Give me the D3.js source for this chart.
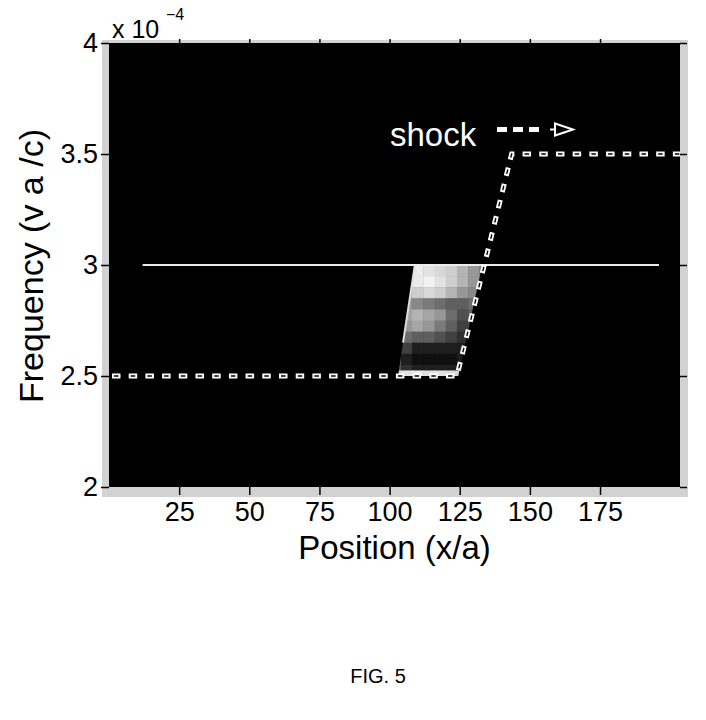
<!DOCTYPE html>
<html>
<head>
<meta charset="utf-8">
<script src="https://cdn.jsdelivr.net/npm/d3@7/dist/d3.min.js"></script>
<style>
  body { margin: 0; background: #fff; }
  svg { display: block; font-family: 'Liberation Sans', Arial, Helvetica, sans-serif; }
  .axis text { font-size: 27px; fill: #000; }
  .axis line { stroke: #000; stroke-width: 1.5; }
  .axis .domain { display: none; }
</style>
</head>
<body>
<svg id="chart" width="706" height="720"></svg>
<script>
// values are in units of 1e-4 (see the "x 10^-4" note on the axis)
const xTicks = [25, 50, 75, 100, 125, 150, 175];
const yTicks = [2, 2.5, 3, 3.5, 4];
const xDomain = [0, 203.5];
const yDomain = [2, 4];

// incident frequency line
const bandX = [12, 196];
const bandY = [3, 3];

// shock front (dashed)
const shockX = [0, 124, 143.5, 203.5];
const shockY = [2.5, 2.5, 3.5, 3.5];

// outline of the converted region behind the shock
const blobX = [103, 109, 133, 124.5];
const blobY = [2.5, 3.0, 3.0, 2.5];

// grey levels inside that region: rows from top (3.0) down, cells 4 wide from x = 100
const blobRowTop = [3.0, 2.95, 2.9, 2.85, 2.8, 2.75, 2.7, 2.65, 2.6, 2.55, 2.525];
const blobRowBottom = [2.95, 2.9, 2.85, 2.8, 2.75, 2.7, 2.65, 2.6, 2.55, 2.525, 2.5];
const blobColLeft = [100, 104, 108, 112, 116, 120, 124, 128, 132];
const blobLevels = [
  [0.70, 0.80, 0.85, 0.80, 0.75, 0.70, 0.60, 0.50, 0.40],
  [0.60, 0.75, 0.85, 0.90, 0.80, 0.70, 0.60, 0.50, 0.40],
  [0.50, 0.60, 0.70, 0.75, 0.70, 0.60, 0.50, 0.45, 0.40],
  [0.45, 0.50, 0.45, 0.40, 0.35, 0.30, 0.30, 0.35, 0.35],
  [0.50, 0.55, 0.60, 0.55, 0.50, 0.35, 0.25, 0.30, 0.30],
  [0.45, 0.50, 0.55, 0.50, 0.40, 0.30, 0.20, 0.25, 0.30],
  [0.40, 0.35, 0.30, 0.30, 0.25, 0.20, 0.15, 0.20, 0.30],
  [0.35, 0.20, 0.10, 0.10, 0.10, 0.10, 0.10, 0.15, 0.30],
  [0.30, 0.10, 0.05, 0.05, 0.05, 0.05, 0.10, 0.10, 0.30],
  [0.30, 0.15, 0.10, 0.10, 0.10, 0.10, 0.10, 0.10, 0.30],
  [0.70, 0.80, 0.85, 0.80, 0.80, 0.75, 0.70, 0.60, 0.40]
];

const PLOT = { left: 109, right: 680, top: 43, bottom: 487 };

function render () {
  let svg = d3.select('#chart');

  let x = d3.scaleLinear().domain(xDomain).range([PLOT.left, PLOT.right]);
  let y = d3.scaleLinear().domain(yDomain).range([PLOT.bottom, PLOT.top]);
  let line = d3.line().x(d => x(d[0])).y(d => y(d[1]));

  // speckled grey margin round the plot (scan look)
  svg.append('rect')
    .attr('x', PLOT.left - 7).attr('y', PLOT.top - 3)
    .attr('width', PLOT.right - PLOT.left + 15).attr('height', PLOT.bottom - PLOT.top + 13)
    .attr('fill', '#d2d2d2');

  svg.append('rect')
    .attr('x', PLOT.left).attr('y', PLOT.top)
    .attr('width', PLOT.right - PLOT.left).attr('height', PLOT.bottom - PLOT.top)
    .attr('fill', '#000');

  let plot = svg.append('g');

  plot.append('clipPath').attr('id', 'blobClip')
    .append('path')
    .attr('d', line(d3.zip(blobX, blobY)) + 'Z');

  let cells = [];
  blobLevels.forEach((row, i) => {
    row.forEach((v, j) => {
      cells.push({ x0: blobColLeft[j], top: blobRowTop[i], bottom: blobRowBottom[i], v });
    });
  });
  plot.append('g').attr('clip-path', 'url(#blobClip)')
    .selectAll('rect')
    .data(cells)
    .enter().append('rect')
    .attr('x', d => x(d.x0))
    .attr('y', d => y(d.top))
    .attr('width', x(4) - x(0) + 0.5)
    .attr('height', d => y(d.bottom) - y(d.top) + 0.5)
    .attr('fill', d => d3.interpolateGreys(1 - d.v));

  // bright left rim of the region, from the top corner part way down
  let rimEnd = d3.interpolate([blobX[1], blobY[1]], [blobX[0], blobY[0]])(0.7);
  plot.append('path')
    .attr('d', line([[blobX[1], blobY[1]], rimEnd]))
    .attr('stroke', '#ddd').attr('stroke-width', 2).attr('fill', 'none');

  plot.append('path')
    .attr('d', line(d3.zip(bandX, bandY)))
    .attr('stroke', '#ececec').attr('stroke-width', 2.2).attr('fill', 'none');

  let shockLine = line(d3.zip(shockX, shockY));
  plot.append('path')
    .attr('d', shockLine)
    .attr('fill', 'none').attr('stroke', '#fff').attr('stroke-width', 5)
    .attr('stroke-dasharray', '8.5 8.2').attr('stroke-dashoffset', 13.7);
  plot.append('path')
    .attr('d', shockLine)
    .attr('fill', 'none').attr('stroke', '#000').attr('stroke-width', 1.4)
    .attr('stroke-dasharray', '4.5 12.2').attr('stroke-dashoffset', 11.7);

  // legend
  let legend = svg.append('g');
  legend.append('text')
    .attr('x', 390).attr('y', 146)
    .attr('fill', '#fff').style('font-size', '33px')
    .text('shock');
  legend.append('line')
    .attr('x1', 497).attr('y1', 129.5).attr('x2', 545).attr('y2', 129.5)
    .attr('stroke', '#fff').attr('stroke-width', 5)
    .attr('stroke-dasharray', '10 6');
  legend.append('path')
    .attr('d', 'M550,129.5 L555,129.5 M555,123.5 L573,129.5 L555,135.5 Z')
    .attr('fill', '#000').attr('stroke', '#fff').attr('stroke-width', 2);

  // axes, ticks pointing out on all four sides
  svg.append('g').attr('class', 'axis')
    .attr('transform', 'translate(' + PLOT.left + ',0)')
    .call(d3.axisLeft(y).tickValues(yTicks).tickFormat(d3.format('')).tickSize(8).tickPadding(3));
  svg.append('g').attr('class', 'axis')
    .attr('transform', 'translate(0,' + PLOT.bottom + ')')
    .call(d3.axisBottom(x).tickValues(xTicks).tickSize(8).tickPadding(7));
  svg.append('g').attr('class', 'axis')
    .attr('transform', 'translate(' + PLOT.right + ',0)')
    .call(d3.axisRight(y).tickValues(yTicks).tickFormat('').tickSize(7));
  svg.append('g').attr('class', 'axis')
    .attr('transform', 'translate(0,' + PLOT.top + ')')
    .call(d3.axisTop(x).tickValues(xTicks).tickFormat('').tickSize(4));

  // exponent note
  svg.append('text')
    .attr('x', 112).attr('y', 38)
    .style('font-size', '25px')
    .text('x 10');
  svg.append('text')
    .attr('x', 166).attr('y', 20)
    .style('font-size', '16px')
    .text('\u22124');

  svg.append('text')
    .attr('transform', 'translate(43,266) rotate(-90)')
    .attr('text-anchor', 'middle')
    .style('font-size', '34px')
    .text('Frequency (v a /c)');

  svg.append('text')
    .attr('x', (PLOT.left + PLOT.right) / 2).attr('y', 559)
    .attr('text-anchor', 'middle')
    .style('font-size', '33px')
    .text('Position (x/a)');

  svg.append('text')
    .attr('x', 378).attr('y', 683)
    .attr('text-anchor', 'middle')
    .style('font-size', '20px')
    .text('FIG. 5');
}

render();
</script>
</body>
</html>
